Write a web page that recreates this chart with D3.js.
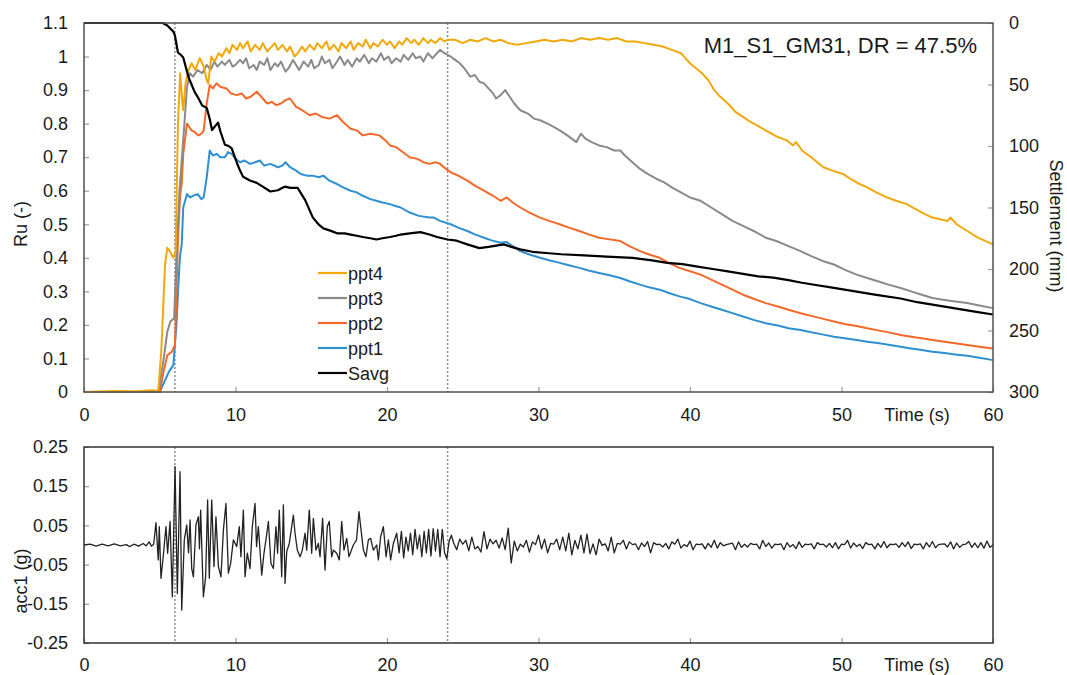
<!DOCTYPE html>
<html>
<head>
<meta charset="utf-8">
<script src="https://cdn.jsdelivr.net/npm/d3@7"></script>
<style>
body { margin: 0; background: #fff; }
text { font-family: Arial, "Liberation Sans", sans-serif; fill: #1a1a1a; }
</style>
</head>
<body>
<svg id="chart" width="1067" height="675"></svg>
<script>
// pore pressure ratio Ru (-), [time s, Ru]
const ppt4 = [[0,0],[2,0.003],[3.5,0.002],[4.5,0.005],[4.9,0.003],[5.1,0.12],[5.35,0.38],[5.5,0.43],[5.65,0.42],[5.9,0.40],[6.05,0.42],[6.2,0.8],[6.35,0.95],[6.5,0.86],[6.55,0.84],[6.7,0.92],[6.9,0.96],[7.1,0.98],[7.35,0.96],[7.65,0.995],[7.9,0.97],[8.1,0.93],[8.2,0.92],[8.4,1.0],[8.6,0.985],[8.9,1.01],[9.1,1.0],[9.4,1.025],[9.6,1.01],[9.8,1.035],[10.1,1.02],[10.3,1.04],[10.5,1.025],[10.8,1.045],[11.0,1.015],[11.3,1.035],[11.6,1.02],[11.8,1.04],[12.1,1.015],[12.3,1.025],[12.6,1.04],[12.8,1.02],[13.1,1.035],[13.4,1.015],[13.6,1.03],[13.9,1.0],[14.1,1.01],[14.4,1.03],[14.6,1.015],[14.9,1.035],[15.2,1.02],[15.4,1.04],[15.7,1.025],[16.0,1.045],[16.2,1.02],[16.5,1.035],[16.8,1.015],[17.0,1.04],[17.3,1.025],[17.6,1.045],[17.8,1.02],[18.1,1.04],[18.4,1.03],[18.6,1.05],[18.9,1.025],[19.1,1.04],[19.4,1.03],[19.7,1.05],[20.0,1.035],[20.2,1.045],[20.5,1.025],[20.8,1.045],[21.0,1.035],[21.3,1.055],[21.6,1.04],[21.8,1.05],[22.1,1.035],[22.4,1.055],[22.7,1.04],[22.9,1.05],[23.2,1.04],[23.5,1.055],[23.8,1.045],[24.0,1.05],[24.5,1.05],[25.0,1.04],[25.5,1.05],[26.0,1.045],[26.5,1.055],[27.0,1.045],[27.5,1.05],[28.0,1.04],[28.6,1.035],[29.2,1.04],[29.8,1.045],[30.4,1.05],[31.0,1.045],[31.6,1.05],[32.2,1.045],[32.8,1.055],[33.4,1.05],[34.0,1.055],[34.6,1.05],[35.2,1.055],[35.8,1.045],[36.4,1.045],[37.0,1.04],[37.6,1.035],[38.2,1.03],[38.8,1.02],[39.4,1.01],[40.0,0.98],[40.4,0.965],[40.8,0.95],[41.2,0.93],[41.6,0.9],[42.0,0.88],[42.5,0.86],[43.0,0.835],[43.5,0.82],[44.0,0.805],[44.6,0.79],[45.2,0.775],[45.8,0.76],[46.4,0.75],[46.8,0.735],[47.0,0.745],[47.4,0.72],[48.0,0.7],[48.4,0.685],[48.8,0.67],[49.4,0.66],[50.1,0.65],[50.6,0.635],[51.2,0.62],[51.7,0.61],[52.3,0.595],[53.0,0.58],[53.6,0.57],[54.3,0.56],[54.9,0.545],[55.5,0.53],[56.0,0.52],[56.5,0.515],[57.0,0.51],[57.2,0.52],[57.6,0.5],[58.3,0.48],[59.0,0.46],[60,0.44]]

const ppt3 = [[0,0],[4.9,0],[5.2,0.08],[5.5,0.18],[5.7,0.21],[5.95,0.22],[6.1,0.4],[6.3,0.6],[6.5,0.72],[6.8,0.91],[7.0,0.95],[7.2,0.94],[7.5,0.96],[7.8,0.95],[8.1,0.975],[8.35,0.96],[8.6,0.985],[8.8,0.97],[9.1,0.985],[9.3,0.975],[9.6,0.99],[9.8,0.97],[10.0,0.975],[10.3,0.99],[10.5,0.98],[10.7,0.995],[10.9,0.965],[11.2,0.975],[11.4,0.96],[11.6,0.985],[11.9,0.975],[12.1,0.995],[12.3,0.96],[12.6,0.98],[12.8,0.97],[13.0,0.985],[13.3,0.955],[13.5,0.965],[13.8,0.99],[14.0,0.975],[14.2,0.96],[14.5,0.985],[14.8,0.97],[15.0,0.99],[15.2,0.965],[15.5,0.975],[15.7,1.0],[15.9,0.98],[16.2,0.99],[16.4,0.965],[16.7,0.985],[16.9,1.0],[17.2,0.975],[17.4,0.99],[17.7,0.97],[18.0,0.995],[18.2,0.985],[18.5,1.005],[18.8,0.98],[19.0,0.995],[19.3,0.985],[19.6,1.01],[19.8,0.99],[20.1,1.0],[20.3,0.98],[20.6,0.995],[20.9,0.985],[21.1,1.005],[21.4,0.99],[21.7,1.01],[21.9,0.995],[22.2,1.0],[22.4,0.985],[22.7,1.01],[23.0,0.995],[23.2,1.005],[23.5,1.02],[23.8,1.01],[24.2,1.0],[24.5,0.99],[24.8,0.98],[25.1,0.965],[25.5,0.94],[25.8,0.945],[26.1,0.925],[26.4,0.92],[26.7,0.905],[27.0,0.89],[27.2,0.875],[27.5,0.885],[27.8,0.9],[28.1,0.88],[28.4,0.86],[28.8,0.84],[29.3,0.83],[29.7,0.815],[30.1,0.81],[30.6,0.8],[31.0,0.79],[31.4,0.78],[31.9,0.765],[32.5,0.745],[32.8,0.77],[33.1,0.755],[33.5,0.745],[34.0,0.735],[34.5,0.73],[35.0,0.72],[35.4,0.72],[35.7,0.705],[36.2,0.685],[36.7,0.665],[37.2,0.65],[37.8,0.635],[38.3,0.625],[38.8,0.61],[39.4,0.595],[40.0,0.58],[40.7,0.57],[41.4,0.55],[42.1,0.53],[42.8,0.51],[43.5,0.495],[44.2,0.48],[45.0,0.46],[45.7,0.45],[46.5,0.435],[47.3,0.42],[48.0,0.405],[48.8,0.39],[49.5,0.38],[50.2,0.365],[51.0,0.35],[51.7,0.34],[52.4,0.33],[53.1,0.32],[53.9,0.31],[54.6,0.3],[55.3,0.29],[56.0,0.28],[56.7,0.275],[57.5,0.27],[58.3,0.265],[59.1,0.258],[60,0.25]]

const ppt2 = [[0,0],[5.0,0],[5.25,0.06],[5.5,0.11],[5.8,0.12],[6.0,0.14],[6.2,0.45],[6.35,0.59],[6.45,0.62],[6.55,0.71],[6.8,0.80],[6.95,0.79],[7.1,0.78],[7.3,0.775],[7.55,0.765],[7.75,0.77],[7.9,0.78],[8.1,0.86],[8.3,0.915],[8.5,0.905],[8.75,0.92],[9.0,0.91],[9.4,0.905],[9.7,0.89],[10.1,0.885],[10.4,0.89],[10.7,0.875],[11.0,0.88],[11.4,0.895],[11.8,0.875],[12.1,0.86],[12.4,0.865],[12.7,0.855],[13.0,0.86],[13.3,0.87],[13.6,0.875],[14.0,0.85],[14.4,0.84],[14.9,0.825],[15.3,0.83],[15.7,0.82],[16.2,0.815],[16.7,0.825],[17.1,0.805],[17.6,0.785],[18.0,0.78],[18.4,0.765],[18.9,0.77],[19.5,0.765],[19.9,0.75],[20.2,0.735],[20.6,0.73],[20.9,0.72],[21.5,0.70],[22.0,0.695],[22.4,0.685],[22.8,0.68],[23.2,0.685],[23.5,0.68],[23.9,0.665],[24.2,0.655],[24.7,0.645],[25.3,0.63],[25.8,0.615],[26.4,0.60],[27.0,0.585],[27.5,0.57],[27.9,0.58],[28.3,0.565],[28.8,0.55],[29.4,0.535],[30.1,0.52],[30.7,0.51],[31.4,0.50],[32.0,0.49],[32.7,0.48],[33.3,0.47],[34.0,0.46],[34.7,0.455],[35.4,0.45],[36.0,0.435],[36.7,0.42],[37.3,0.41],[38.0,0.40],[38.6,0.385],[39.3,0.37],[40.0,0.36],[40.7,0.35],[41.4,0.335],[42.1,0.32],[42.8,0.305],[43.5,0.29],[44.2,0.278],[45.0,0.265],[45.8,0.255],[46.5,0.245],[47.3,0.235],[48.0,0.227],[48.8,0.218],[49.5,0.21],[50.2,0.203],[51.0,0.197],[51.7,0.19],[52.5,0.183],[53.2,0.177],[53.9,0.17],[54.6,0.165],[55.3,0.16],[56.0,0.155],[56.8,0.15],[57.5,0.145],[58.3,0.14],[59.1,0.135],[60,0.13]]

const ppt1 = [[0,0],[5.0,0],[5.3,0.03],[5.6,0.06],[5.9,0.08],[6.1,0.2],[6.3,0.38],[6.35,0.41],[6.45,0.44],[6.55,0.55],[6.8,0.59],[7.0,0.58],[7.2,0.585],[7.5,0.59],[7.75,0.575],[7.9,0.58],[8.1,0.64],[8.3,0.72],[8.5,0.705],[8.75,0.71],[9.0,0.70],[9.3,0.70],[9.5,0.715],[9.75,0.71],[10.0,0.695],[10.3,0.685],[10.6,0.69],[10.95,0.68],[11.3,0.685],[11.6,0.69],[11.9,0.675],[12.3,0.68],[12.8,0.67],[13.1,0.675],[13.3,0.685],[13.6,0.67],[14.0,0.66],[14.3,0.65],[14.7,0.645],[15.1,0.645],[15.5,0.64],[15.8,0.645],[16.2,0.63],[16.7,0.62],[17.1,0.61],[17.6,0.60],[18.0,0.595],[18.4,0.585],[18.9,0.575],[19.3,0.57],[19.7,0.565],[20.2,0.56],[20.5,0.555],[20.9,0.55],[21.5,0.535],[22.1,0.525],[22.8,0.52],[23.1,0.52],[23.5,0.51],[24.2,0.50],[24.7,0.49],[25.3,0.48],[25.8,0.47],[26.4,0.46],[26.9,0.452],[27.5,0.445],[27.9,0.447],[28.3,0.435],[28.8,0.42],[29.4,0.41],[30.1,0.40],[30.7,0.393],[31.4,0.385],[32.0,0.378],[32.7,0.37],[33.3,0.362],[34.0,0.355],[34.7,0.348],[35.4,0.34],[36.0,0.33],[36.7,0.32],[37.3,0.312],[38.0,0.305],[38.6,0.295],[39.3,0.285],[40.0,0.277],[40.7,0.265],[41.4,0.255],[42.1,0.245],[42.8,0.235],[43.5,0.225],[44.2,0.215],[45.0,0.205],[45.8,0.198],[46.5,0.19],[47.3,0.185],[48.0,0.178],[48.8,0.171],[49.5,0.165],[50.2,0.16],[51.0,0.155],[51.7,0.15],[52.5,0.145],[53.2,0.14],[53.9,0.135],[54.6,0.13],[55.3,0.125],[56.0,0.12],[56.8,0.116],[57.5,0.112],[58.3,0.108],[59.1,0.102],[60,0.095]]

// average settlement (mm), right axis, [time s, mm]
const savg = [[0,0],[5.2,0],[5.5,2],[5.9,7],[6.0,10],[6.2,24],[6.4,26],[6.55,28],[6.7,35],[6.9,44],[7.1,50],[7.3,56],[7.5,60],[7.8,67],[8.1,69],[8.3,78],[8.45,87],[8.65,84],[8.85,81],[9.0,88],[9.3,99],[9.55,100],[9.75,102],[10.1,114],[10.3,120],[10.5,125],[10.95,128],[11.4,130],[11.8,133],[12.3,137],[12.8,136],[13.1,134],[13.3,133],[13.6,134],[14.1,134],[14.6,144],[15.1,158],[15.5,164],[15.8,167],[16.3,169],[16.7,171],[17.2,171],[17.6,172],[18.0,173],[18.4,174],[18.9,175],[19.3,176],[19.7,175],[20.2,174],[20.6,173],[20.9,172],[21.5,171],[22.2,170],[22.8,172],[23.3,174],[24.0,176],[24.6,177],[25.3,180],[26.1,183],[26.7,182],[27.2,181],[27.7,180],[28.2,182],[28.8,184],[29.6,186],[30.5,187],[31.5,188],[33.0,189],[34.5,190],[36.2,191],[37.5,193],[38.5,195],[39.5,196],[40.5,198],[41.5,200],[42.5,202],[43.5,204],[44.5,206],[45.5,207],[46.5,209],[47.3,211],[48.3,213],[49.3,215],[50.3,217],[51.3,219],[52.3,221],[53.9,224],[55,227],[56,229],[57,231],[58,233],[59,235],[60,237]]

// base acceleration acc1 (g): shaking part as [time s, g]
const accStrong = [[0,0],[0.4,0.002],[0.8,-0.003],[1.2,0.002],[1.6,-0.002],[2.0,0.003],[2.4,-0.002],[2.8,0.001],[3.0,-0.004],[3.3,0.002],[3.6,-0.003],[3.9,0.004],[4.1,-0.002],[4.3,0.008],[4.45,-0.003],[4.6,0.002],[4.75,0.057],[4.9,-0.038],[4.97,0.047],[5.08,-0.085],[5.24,-0.025],[5.41,0.047],[5.52,-0.021],[5.68,0.06],[5.83,-0.132],[6.01,0.2],[6.16,-0.124],[6.34,0.187],[6.45,-0.166],[6.62,0.013],[6.78,0.051],[6.9,-0.02],[7.0,0.064],[7.11,-0.06],[7.22,-0.081],[7.39,0.051],[7.55,0.072],[7.62,-0.01],[7.70,0.089],[7.88,-0.132],[8.03,-0.081],[8.16,0.115],[8.27,-0.085],[8.43,0.115],[8.58,-0.055],[8.71,0.072],[8.87,-0.055],[9.04,-0.081],[9.20,0.038],[9.37,0.106],[9.53,-0.072],[9.68,-0.047],[9.86,0.013],[10.08,-0.004],[10.25,0.047],[10.36,-0.030],[10.52,0.089],[10.63,-0.081],[10.78,-0.021],[10.96,-0.06],[11.11,0.047],[11.29,0.106],[11.39,-0.004],[11.51,0.047],[11.73,-0.077],[11.88,-0.021],[12.01,0.013],[12.17,0.06],[12.34,-0.047],[12.50,-0.06],[12.67,0.047],[12.78,-0.021],[12.89,0.089],[13.05,-0.081],[13.16,0.102],[13.27,-0.098],[13.38,-0.017],[13.55,0.004],[13.71,0.047],[13.82,0.076],[13.93,0.03],[14.08,-0.013],[14.26,-0.03],[14.41,-0.013],[14.59,0.03],[14.70,-0.013],[14.87,0.089],[15.03,-0.021],[15.14,0.068],[15.31,-0.013],[15.47,0.004],[15.58,-0.03],[15.75,0.068],[15.91,-0.064],[16.06,0.047],[16.19,0.06],[16.35,-0.03],[16.46,-0.013],[16.68,-0.021],[16.85,-0.038],[17.01,0.06],[17.16,-0.013],[17.34,0.017],[17.49,-0.03],[17.78,0.0],[17.99,0.013],[18.15,0.085],[18.29,0.038],[18.44,-0.013],[18.61,-0.03],[18.77,0.013],[18.92,0.017],[19.10,-0.013],[19.32,0.0],[19.43,-0.038],[19.58,0.021],[19.76,0.047],[19.94,-0.03],[20.09,0.013],[20.24,-0.038],[20.42,0.004],[20.64,0.03],[20.8,-0.02],[20.95,0.035],[21.1,-0.033],[21.25,0.02],[21.4,-0.015],[21.55,0.03],[21.7,-0.025],[21.85,0.04],[22.0,-0.01],[22.15,0.025],[22.3,-0.03],[22.45,0.035],[22.6,-0.02],[22.75,0.04],[22.9,-0.028],[23.05,0.042],[23.2,-0.015],[23.35,0.04],[23.5,-0.03],[23.65,0.04],[23.8,-0.02],[23.95,-0.035],[24.1,0.01],[24.25,0.025]]

// acc1 tail, sampled every 0.2 s from 24.4 s
const accTailStart = 24.4
const accTailStep = 0.2
const accTail = [0.005,-0.012,0.015,0.002,0.012,-0.015,0.02,-0.01,-0.004,-0.018,0.034,-0.01,0.015,0.003,0.012,-0.008,0.018,-0.012,0.043,-0.046,
  0.01,-0.015,0.002,-0.005,0.012,-0.018,0.008,0.001,0.025,-0.01,0.015,-0.02,0.004,0.002,0.015,-0.012,0.02,-0.015,0.03,-0.025,
  0.012,-0.01,0.025,-0.02,0.028,-0.022,0.003,-0.025,0.015,-0.001,0.003,-0.015,0.02,-0.02,0.004,0.002,0.012,-0.01,
  0.008,0.001,0.003,-0.012,0.005,-0.004,0.009,-0.02,0.006,0.001,0.002,-0.005,0.004,-0.01,0.008,0.002,0.015,-0.008,0.001,-0.004,
  0.01,-0.012,0.002,0.001,0.003,-0.01,0.004,-0.006,0.012,-0.008,0.006,-0.002,0.001,0.003,0.005,-0.012,0.008,-0.006,0.002,-0.005,
  0.004,0.001,0.002,-0.01,0.012,-0.004,0.005,-0.008,0.002,0.001,0.003,-0.012,0.006,-0.005,0.001,-0.009,0.008,-0.006,0.002,0.001,
  0.003,-0.01,0.006,0.001,0.002,-0.005,0.004,-0.007,0.006,-0.01,0.002,0.001,0.012,-0.008,0.005,-0.004,0.002,-0.009,0.006,0.001,
  0.002,-0.01,0.004,-0.006,0.009,-0.007,0.002,0.001,0.003,-0.006,0.006,-0.004,0.008,-0.009,0.002,0.001,0.003,-0.01,0.006,-0.005,
  0.009,-0.007,0.001,0.002,0.003,-0.005,0.008,-0.01,0.005,-0.006,0.001,0.002,0.009,-0.006,0.005,-0.007,0.006,-0.008,0.01,-0.006,0.0]

// ticks and labels
const timeTicks = [0, 10, 20, 30, 40, 50, 60]
const ruTicks = [0, 0.1, 0.2, 0.3, 0.4, 0.5, 0.6, 0.7, 0.8, 0.9, 1.0, 1.1]
const settleTicks = [0, 50, 100, 150, 200, 250, 300]
const accTicks = [-0.25, -0.15, -0.05, 0.05, 0.15, 0.25]
const markerTimes = [6, 24]
const title = "M1_S1_GM31, DR = 47.5%"

const series = [
    { name: "ppt1", data: ppt1, color: "#2f8fd1" },
    { name: "ppt2", data: ppt2, color: "#f2692a" },
    { name: "ppt3", data: ppt3, color: "#8a8a8a" },
    { name: "ppt4", data: ppt4, color: "#f0a80c" }
]
const legendItems = [
    { name: "ppt4", color: "#f0a80c" },
    { name: "ppt3", color: "#8a8a8a" },
    { name: "ppt2", color: "#f2692a" },
    { name: "ppt1", color: "#2f8fd1" },
    { name: "Savg", color: "#000000" }
]

const svg = d3.select("#chart")

const topBox = { left: 84, right: 993, top: 23, bottom: 392 }
const botBox = { left: 84, right: 993, top: 447, bottom: 643 }

const xScale = d3.scaleLinear().domain([0, 60]).range([topBox.left, topBox.right])
const yRu = d3.scaleLinear().domain([0, 1.1]).range([topBox.bottom, topBox.top])
const ySettle = d3.scaleLinear().domain([0, 300]).range([topBox.top, topBox.bottom])
const yAcc = d3.scaleLinear().domain([-0.25, 0.25]).range([botBox.bottom, botBox.top])

function styleAxis(g) {
    g.select(".domain").remove()
    g.selectAll(".tick line").attr("stroke", "#9a9a9a").attr("stroke-width", 1.2)
    g.selectAll(".tick text").attr("font-size", "18px").attr("fill", "#1a1a1a")
        .style("font-family", "Arial, 'Liberation Sans', sans-serif")
}

// ---------- top panel ----------
svg.append("g")
    .attr("transform", `translate(0,${topBox.bottom})`)
    .call(d3.axisBottom(xScale).tickValues(timeTicks).tickSize(-5).tickPadding(16))
    .call(styleAxis)

svg.append("g")
    .attr("transform", `translate(${topBox.left},0)`)
    .call(d3.axisLeft(yRu).tickValues(ruTicks).tickSize(-5).tickPadding(16)
        .tickFormat(d => String(+d.toFixed(1))))
    .call(styleAxis)

svg.append("g")
    .attr("transform", `translate(${topBox.right},0)`)
    .call(d3.axisRight(ySettle).tickValues(settleTicks).tickSize(-5).tickPadding(16))
    .call(styleAxis)

svg.selectAll("line.marker-top")
    .data(markerTimes)
    .enter()
    .append("line")
    .attr("class", "marker-top")
    .attr("x1", d => xScale(d)).attr("x2", d => xScale(d))
    .attr("y1", topBox.top).attr("y2", topBox.bottom)
    .attr("stroke", "#8c8c8c").attr("stroke-width", 1.5)
    .attr("stroke-dasharray", "2,2")

const ruLine = d3.line().x(d => xScale(d[0])).y(d => yRu(d[1]))
const settleLine = d3.line().x(d => xScale(d[0])).y(d => ySettle(d[1]))

svg.selectAll("path.ru")
    .data(series)
    .enter()
    .append("path")
    .attr("class", "ru")
    .attr("d", d => ruLine(d.data))
    .attr("fill", "none")
    .attr("stroke", d => d.color)
    .attr("stroke-width", 2)
    .attr("stroke-linejoin", "round")

svg.append("path")
    .attr("d", settleLine(savg))
    .attr("fill", "none")
    .attr("stroke", "#000")
    .attr("stroke-width", 2.2)
    .attr("stroke-linejoin", "round")

svg.append("rect")
    .attr("x", topBox.left).attr("y", topBox.top)
    .attr("width", topBox.right - topBox.left).attr("height", topBox.bottom - topBox.top)
    .attr("fill", "none").attr("stroke", "#505050").attr("stroke-width", 1.5)

svg.append("text")
    .attr("x", 977).attr("y", 53)
    .attr("text-anchor", "end")
    .attr("font-size", "22px")
    .text(title)

// legend
const legend = svg.append("g").attr("transform", "translate(318,273)")
legend.selectAll("g.item")
    .data(legendItems)
    .enter()
    .append("g")
    .attr("class", "item")
    .attr("transform", (d, i) => `translate(0,${i * 25})`)
    .each(function (d) {
        d3.select(this).append("line")
            .attr("x1", 0).attr("x2", 29).attr("y1", 0).attr("y2", 0)
            .attr("stroke", d.color).attr("stroke-width", 2.2)
        d3.select(this).append("text")
            .attr("x", 30).attr("y", 6.5)
            .attr("font-size", "18px")
            .text(d.name)
    })

svg.append("text")
    .attr("transform", "translate(27,224) rotate(-90)")
    .attr("text-anchor", "middle")
    .attr("font-size", "18px")
    .text("Ru (-)")

svg.append("text")
    .attr("transform", "translate(1050,226) rotate(90)")
    .attr("text-anchor", "middle")
    .attr("font-size", "18px")
    .text("Settlement (mm)")

svg.append("text")
    .attr("x", 917).attr("y", 421)
    .attr("text-anchor", "middle")
    .attr("font-size", "18px")
    .text("Time (s)")

// ---------- bottom panel ----------
svg.append("g")
    .attr("transform", `translate(0,${botBox.bottom})`)
    .call(d3.axisBottom(xScale).tickValues(timeTicks).tickSize(-5).tickPadding(15))
    .call(styleAxis)

svg.append("g")
    .attr("transform", `translate(${botBox.left},0)`)
    .call(d3.axisLeft(yAcc).tickValues(accTicks).tickSize(-5).tickPadding(16)
        .tickFormat(d => d.toFixed(2)))
    .call(styleAxis)

svg.selectAll("line.marker-bot")
    .data(markerTimes)
    .enter()
    .append("line")
    .attr("class", "marker-bot")
    .attr("x1", d => xScale(d)).attr("x2", d => xScale(d))
    .attr("y1", botBox.top).attr("y2", botBox.bottom)
    .attr("stroke", "#8c8c8c").attr("stroke-width", 1.5)
    .attr("stroke-dasharray", "2,2")

const accData = accStrong.concat(accTail.map((v, i) => [accTailStart + i * accTailStep, v]))

svg.append("path")
    .attr("d", d3.line().x(d => xScale(d[0])).y(d => yAcc(d[1]))(accData))
    .attr("fill", "none")
    .attr("stroke", "#222")
    .attr("stroke-width", 1.3)
    .attr("stroke-linejoin", "round")

svg.append("rect")
    .attr("x", botBox.left).attr("y", botBox.top)
    .attr("width", botBox.right - botBox.left).attr("height", botBox.bottom - botBox.top)
    .attr("fill", "none").attr("stroke", "#303030").attr("stroke-width", 1.5)

svg.append("text")
    .attr("transform", "translate(27,581) rotate(-90)")
    .attr("text-anchor", "middle")
    .attr("font-size", "18px")
    .text("acc1 (g)")

svg.append("text")
    .attr("x", 917).attr("y", 671)
    .attr("text-anchor", "middle")
    .attr("font-size", "18px")
    .text("Time (s)")
</script>
</body>
</html>
